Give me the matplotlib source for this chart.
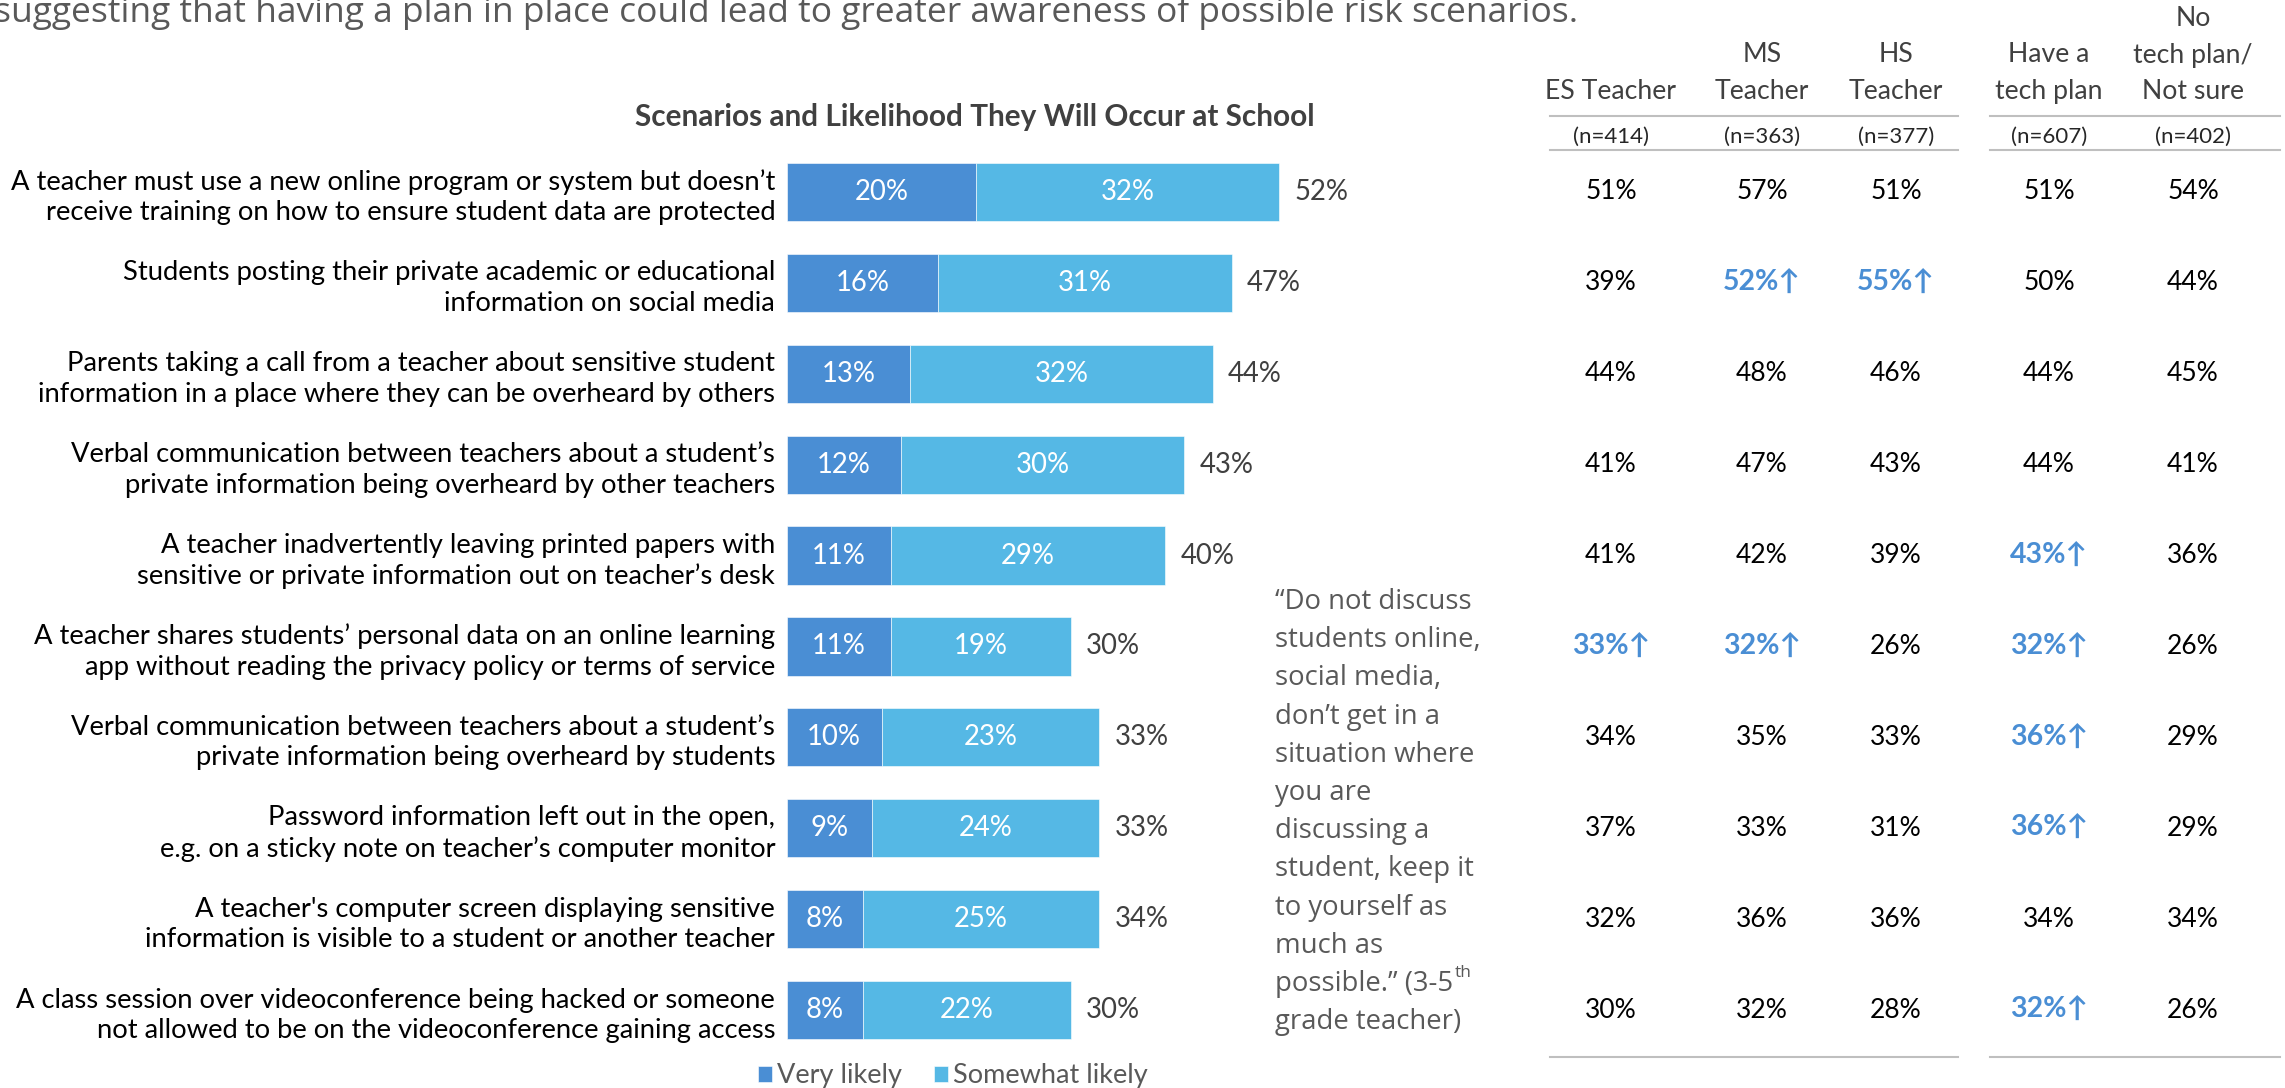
import matplotlib
matplotlib.use("Agg")
import matplotlib.pyplot as plt
import matplotlib.transforms as mtransforms
from matplotlib.patches import Rectangle
from matplotlib.lines import Line2D

# scenario labels, top to bottom
scenarios = [
    "A teacher must use a new online program or system but doesn\u2019t\nreceive training on how to ensure student data are protected",
    "Students posting their private academic or educational\ninformation on social media",
    "Parents taking a call from a teacher about sensitive student\ninformation in a place where they can be overheard by others",
    "Verbal communication between teachers about a student\u2019s\nprivate information being overheard by other teachers",
    "A teacher inadvertently leaving printed papers with\nsensitive or private information out on teacher\u2019s desk",
    "A teacher shares students\u2019 personal data on an online learning\napp without reading the privacy policy or terms of service",
    "Verbal communication between teachers about a student\u2019s\nprivate information being overheard by students",
    "Password information left out in the open,\ne.g. on a sticky note on teacher\u2019s computer monitor",
    "A teacher's computer screen displaying sensitive\ninformation is visible to a student or another teacher",
    "A class session over videoconference being hacked or someone\nnot allowed to be on the videoconference gaining access",
]
very_likely = [20, 16, 13, 12, 11, 11, 10, 9, 8, 8]
somewhat_likely = [32, 31, 32, 30, 29, 19, 23, 24, 25, 22]
totals = [52, 47, 44, 43, 40, 30, 33, 33, 34, 30]

# subgroup table (share saying very/somewhat likely)
group_headers = [["ES Teacher"], ["MS", "Teacher"], ["HS", "Teacher"],
                 ["Have a", "tech plan"], ["No", "tech plan/", "Not sure"]]
group_n = ["(n=414)", "(n=363)", "(n=377)", "(n=607)", "(n=402)"]
es_teacher = [51, 39, 44, 41, 41, 33, 34, 37, 32, 30]
ms_teacher = [57, 52, 48, 47, 42, 32, 35, 33, 36, 32]
hs_teacher = [51, 55, 46, 43, 39, 26, 33, 31, 36, 28]
have_plan = [51, 50, 44, 44, 43, 32, 36, 36, 34, 32]
no_plan = [54, 44, 45, 41, 36, 26, 29, 29, 34, 26]
# significantly higher than comparison group
es_sig = [0, 0, 0, 0, 0, 1, 0, 0, 0, 0]
ms_sig = [0, 1, 0, 0, 0, 1, 0, 0, 0, 0]
hs_sig = [0, 1, 0, 0, 0, 0, 0, 0, 0, 0]
plan_sig = [0, 0, 0, 0, 1, 1, 1, 1, 0, 1]
noplan_sig = [0, 0, 0, 0, 0, 0, 0, 0, 0, 0]

quote_lines = ["\u201cDo not discuss", "students online,", "social media,",
               "don\u2019t get in a", "situation where", "you are",
               "discussing a", "student, keep it", "to yourself as",
               "much as", "possible.\u201d (3-5", "grade teacher)"]

DARK = "#4A8ED4"
LIGHT = "#55B8E5"
GRAY = "#404040"
plt.rcParams['font.family'] = ['Lato', 'DejaVu Sans']

W, H = 2285, 1088
fig = plt.figure(figsize=(W / 100, H / 100), dpi=100)

def fx(px):
    return px / W

def fy(py):
    return 1 - py / H

# bars
ax = fig.add_axes([fx(787), fy(1055.5), 946 / W, 909 / H])
ax.set_xlim(0, 100)
ax.set_ylim(9.5, -0.5)
rows = list(range(len(scenarios)))
b1 = ax.barh(rows, very_likely, height=0.64, color=DARK, edgecolor="white", linewidth=0.4)
b2 = ax.barh(rows, somewhat_likely, left=very_likely, height=0.64, color=LIGHT,
             edgecolor="white", linewidth=0.4)
ax.bar_label(b1, labels=[f"{v}%" for v in very_likely], label_type="center",
             color="white", fontsize=19.8)
ax.bar_label(b2, labels=[f"{v}%" for v in somewhat_likely], label_type="center",
             color="white", fontsize=19.8)
for i in rows:
    ax.annotate(f"{totals[i]}%", xy=(very_likely[i] + somewhat_likely[i], i),
                xytext=(11, 0), textcoords="offset points", va="center",
                ha="left", fontsize=19.8, color=GRAY)

ax.set_yticks(rows, scenarios)
ax.tick_params(axis="y", length=0, pad=8.5, labelsize=19.7, labelcolor="black")
for lab in ax.get_yticklabels():
    lab.set_linespacing(1.28)
ax.set_xticks([])
for s in ax.spines.values():
    s.set_visible(False)

fig.text(fx(975), fy(117), "Scenarios and Likelihood They Will Occur at School",
         ha="center", va="center", fontsize=21.4, fontweight="bold", color=GRAY)

fig.text(fx(-6), fy(22),
         "suggesting that having a plan in place could lead to greater awareness of possible risk scenarios.",
         ha="left", va="baseline", fontsize=25.5, color="#595959", family="Open Sans")

fig.legend(handles=[b1, b2], labels=["Very likely", "Somewhat likely"],
           loc="center left", bbox_to_anchor=(fx(758), fy(1076)), ncol=2,
           frameon=False, fontsize=19.5, handlelength=0.5, handleheight=0.5,
           handletextpad=0.2, columnspacing=1.2, labelcolor="#595959",
           borderaxespad=0, borderpad=0)

# quote box
fig.add_artist(Rectangle((fx(1257), fy(1051)), (1522 - 1257) / W, (1051 - 568) / H,
                         transform=fig.transFigure, facecolor="#F2F2F2",
                         edgecolor="none", zorder=0))
qtexts = []
for k, line in enumerate(quote_lines):
    t = fig.text(fx(1275), fy(609 + 38.2 * k), line, ha="left", va="baseline",
                 fontsize=19.8, color="#595959", family="Open Sans")
    qtexts.append(t)
renderer = fig.canvas.get_renderer()
bb = qtexts[-2].get_window_extent(renderer)
fig.text(bb.x1 / W + 0.0008, fy(609 + 38.2 * 10 - 14), "th", ha="left", va="baseline",
         fontsize=12.5, color="#595959", family="Open Sans")

# subgroup table
trans = mtransforms.blended_transform_factory(fig.transFigure, ax.transData)
col_x = [1611, 1762, 1896, 2049, 2193]
columns = [es_teacher, ms_teacher, hs_teacher, have_plan, no_plan]
flags = [es_sig, ms_sig, hs_sig, plan_sig, noplan_sig]
for c in range(len(columns)):
    head = group_headers[c]
    base = [99 - 36.5 * (len(head) - 1 - j) for j in range(len(head))]
    for j, h in enumerate(head):
        fig.text(fx(col_x[c]), fy(base[j]), h, ha="center", va="baseline",
                 fontsize=19.2, color=GRAY)
    fig.text(fx(col_x[c]), fy(137), group_n[c], ha="center", va="center",
             fontsize=16, color="#262626")
    for i, v in enumerate(columns[c]):
        if flags[c][i]:
            fig.text(fx(col_x[c]), i, f"{v}%\u2191", transform=trans, ha="center",
                     va="center", fontsize=20.5, fontweight="bold", color=DARK)
        else:
            fig.text(fx(col_x[c]), i, f"{v}%", transform=trans, ha="center",
                     va="center", fontsize=19, color="black")

for x0, x1 in [(1550, 1958), (1990, 2280)]:
    for yy in [116, 150, 1057]:
        fig.add_artist(Line2D([fx(x0), fx(x1)], [fy(yy), fy(yy)],
                              color="#BFBFBF", lw=1.5))

fig.savefig("out.png", dpi=100)
